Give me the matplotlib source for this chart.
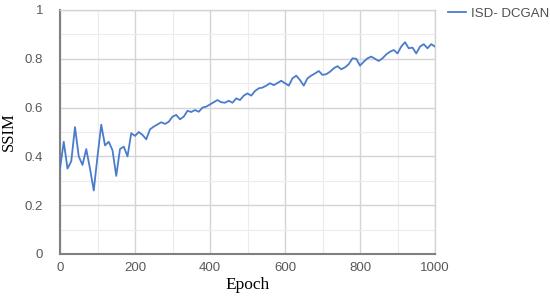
import matplotlib
matplotlib.use("Agg")
import matplotlib.pyplot as plt
from matplotlib.ticker import MultipleLocator

epochs = list(range(0, 1001, 10))
ssim = [0.35, 0.46, 0.35, 0.38, 0.52, 0.40, 0.365, 0.43, 0.35, 0.26,
        0.40, 0.53, 0.445, 0.46, 0.425, 0.32, 0.43, 0.44, 0.40, 0.495,
        0.484, 0.50, 0.488, 0.47, 0.511, 0.522, 0.531, 0.54, 0.533, 0.542,
        0.563, 0.57, 0.552, 0.563, 0.587, 0.582, 0.59, 0.583, 0.60, 0.604,
        0.613, 0.622, 0.631, 0.622, 0.62, 0.628, 0.62, 0.638, 0.631, 0.649,
        0.658, 0.649, 0.668, 0.679, 0.682, 0.69, 0.70, 0.692, 0.701, 0.71,
        0.70, 0.69, 0.72, 0.731, 0.713, 0.69, 0.72, 0.731, 0.74, 0.75,
        0.734, 0.737, 0.747, 0.761, 0.77, 0.757, 0.765, 0.778, 0.802, 0.80,
        0.772, 0.788, 0.802, 0.809, 0.80, 0.791, 0.802, 0.818, 0.829, 0.836,
        0.822, 0.85, 0.868, 0.843, 0.846, 0.822, 0.85, 0.86, 0.843, 0.86,
        0.85]
series_label = "ISD- DCGAN"
x_ticks = [0, 200, 400, 600, 800, 1000]
y_ticks = [0, 0.2, 0.4, 0.6, 0.8, 1]
y_tick_labels = ["0", "0.2", "0.4", "0.6", "0.8", "1"]

fig = plt.figure(figsize=(5.5, 3.03), dpi=100)
ax = fig.add_axes([60/550, 1-254/303, (435-60)/550, (254-10)/303])

ax.plot(epochs, ssim, color="#4a7ccc", lw=1.3, label=series_label, zorder=3)

ax.set_xlim(0, 1000)
ax.set_ylim(0, 1)
ax.set_xticks(x_ticks)
ax.set_yticks(y_ticks)
ax.set_yticklabels(y_tick_labels)
ax.xaxis.set_minor_locator(MultipleLocator(100))
ax.yaxis.set_minor_locator(MultipleLocator(0.1))
ax.grid(which="major", color="#d4d4d4", lw=1.0)
ax.grid(which="minor", color="#ececec", lw=0.8)
ax.set_axisbelow(True)

ax.tick_params(which="both", length=0)
ax.tick_params(axis="y", pad=12, labelsize=9.5, labelcolor="#595959")
ax.tick_params(axis="x", pad=6, labelsize=9.5, labelcolor="#595959")
for lab in ax.get_xticklabels() + ax.get_yticklabels():
    lab.set_fontfamily("Liberation Sans")

for s in ["left", "bottom"]:
    ax.spines[s].set_color("#808080")
    ax.spines[s].set_linewidth(1.5)
for s in ["top", "right"]:
    ax.spines[s].set_color("#d4d4d4")
    ax.spines[s].set_linewidth(1.0)

ax.set_xlabel("Epoch", fontfamily="Liberation Serif", fontsize=12.5, labelpad=2)
ax.set_ylabel("SSIM", fontfamily="Liberation Serif", fontsize=12, labelpad=6)

leg = ax.legend(loc="upper left", bbox_to_anchor=(1.035, 1.01), frameon=False,
                borderpad=0, borderaxespad=0,
                handlelength=1.36, handletextpad=0.4,
                prop={"family": "Liberation Sans", "size": 9.5})
for t in leg.get_texts():
    t.set_color("#505050")

fig.savefig("out.png", dpi=100)
